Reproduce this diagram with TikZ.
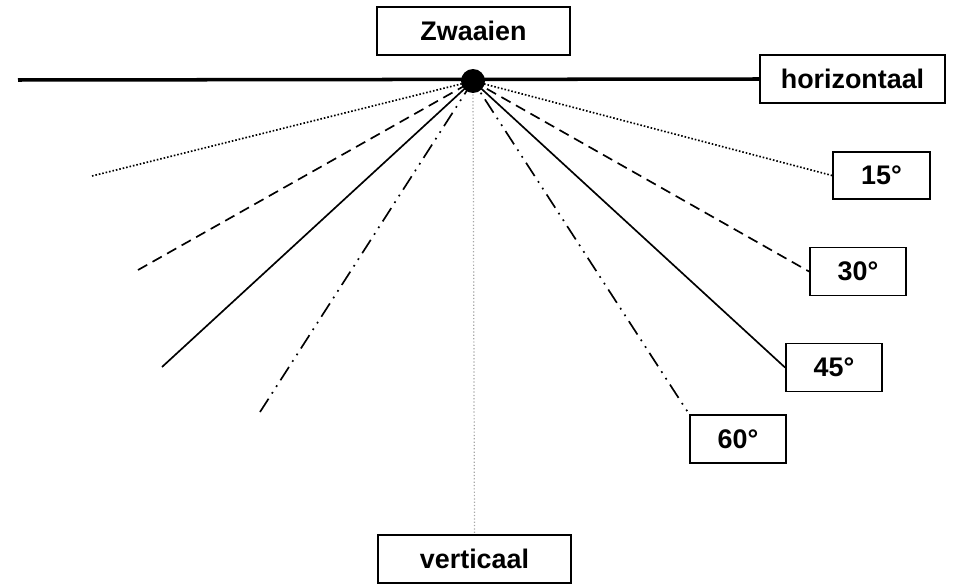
\documentclass[tikz,border=0pt]{standalone}
\usepackage{fontspec}
\setmainfont{Liberation Sans}
\begin{document}
\begin{tikzpicture}[x=0.02cm,y=-0.02cm,
  every node/.style={font=\bfseries\fontsize{15.3}{18}\selectfont},
  labelbox/.style={draw,line width=1.1pt,inner sep=0pt,minimum height=0.96cm},
  ray/.style={line width=0.95pt},
  dashdotdot/.style={line width=0.95pt,dash pattern=on 9pt off 3.5pt on 1pt off 3.5pt on 1pt off 3.5pt}]
\useasboundingbox (0,0) rectangle (955,584);
% labels
\node[labelbox,minimum width=3.86cm] (title) at (473.5,31) {Zwaaien};
\node[labelbox,minimum width=3.7cm] (hor) at (852.5,79) {horizontaal};
\node[labelbox,minimum width=3.86cm] (vert) at (474.5,559) {verticaal};
\node[labelbox,minimum width=1.94cm,minimum height=0.94cm] (a15) at (881.5,175.5) {15°};
\node[labelbox,minimum width=1.92cm] (a30) at (858,271.5) {30°};
\node[labelbox,minimum width=1.92cm] (a45) at (834,367.5) {45°};
\node[labelbox,minimum width=1.92cm] (a60) at (738,439) {60°};
% free ends on the left
\coordinate (l15) at (92,176);
\coordinate (l30) at (138,270);
\coordinate (l45) at (162,367);
\coordinate (l60) at (260,412);
\coordinate (hl) at (18,80);
\coordinate (p) at (473,81);
% rays
\draw[gray!70,line width=0.7pt,dash pattern=on 0.7pt off 1.2pt] (p) -- (vert.north);
\draw[ray,dash pattern=on 0.9pt off 1.1pt] (l15) -- (p) -- (a15.west);
\draw[ray,dash pattern=on 6pt off 3.5pt] (l30) -- (p) -- (a30.west);
\draw[ray] (l45) -- (p) -- (a45.west);
\draw[dashdotdot] (l60) -- (p) -- (a60.north west);
\draw[line width=2pt] (hl) -- (hor.west);
\node[circle,fill=black,inner sep=0pt,minimum size=0.48cm] (pivot) at (p) {};
\end{tikzpicture}
\end{document}
